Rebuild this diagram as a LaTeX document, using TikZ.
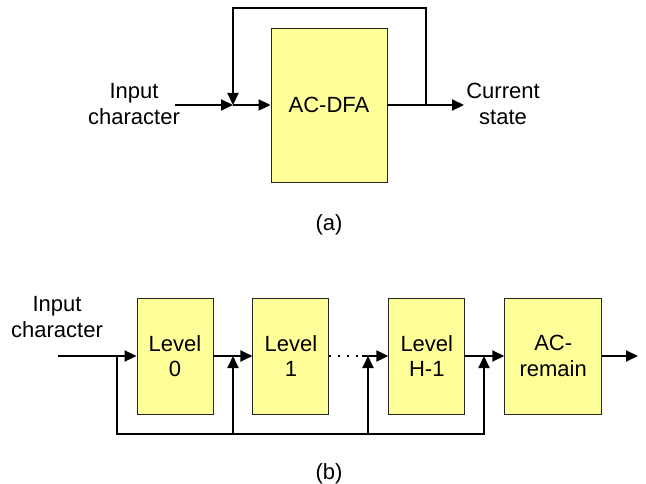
\documentclass[tikz,border=0pt]{standalone}
\usepackage{fontspec}
\setmainfont{Liberation Sans}
\usepackage{xcolor}
\usepackage{tikz}
\usetikzlibrary{arrows.meta, positioning}
\definecolor{boxfill}{HTML}{FFFF99}

\begin{document}
\begin{tikzpicture}[
    x = 1pt, y = -1pt,
    node distance = 39pt,
    box/.style = {rectangle, draw=black!85, fill=boxfill, line width=0.9pt, minimum width=76pt, minimum height=116pt, align=center, font=\fontsize{22}{25.5}\selectfont},
    lbl/.style = {align=center, inner sep=0pt, font=\fontsize{22}{25.5}\selectfont},
    wire/.style = {line width=2pt},
    arrow/.style = {line width=2pt, -{Triangle[length=12pt,width=11pt]}}
]
\useasboundingbox (0,0) rectangle (646,484);

% (a) single automaton
\node (dfa) [box, minimum width=116pt, minimum height=154pt] at (329,105) {AC-DFA};
\node (inA) [lbl] at (134,104) {Input\\character};
\node (outA) [lbl] at (503,104) {Current\\state};
\node (capA) [lbl] at (329,225) {(a)};

\coordinate (startA) at (175,105);
\coordinate (joinA) at (233,105);
\coordinate (splitA) at (426,105);
\coordinate (endA) at (464,105);
\coordinate (topA) at (233,8);

\draw [arrow] (startA) -- (joinA);
\draw [arrow] (joinA) -- (dfa);
\draw [arrow] (dfa) -- (endA);
\draw [arrow] (splitA) |- (topA) -- (joinA);

% (b) chain of levels
\node (lvl0) [box] at (175,356) {Level\\0};
\node (lvl1) [box, right=of lvl0] {Level\\1};
\node (lvlh) [box, right=59pt of lvl1] {Level\\H-1};
\node (rem) [box, minimum width=97pt, right=of lvlh] {AC-\\remain};
\node (inB) [lbl] at (57,317) {Input\\character};
\node (capB) [lbl] at (329,474) {(b)};

\coordinate (startB) at (58,356);
\coordinate (join0) at (117,356);
\coordinate (join1) at (233,356);
\coordinate (join2) at (368,356);
\coordinate (join3) at (484,356);
\coordinate (dots) at (362,356);
\coordinate (endB) at (638,356);
\coordinate (bot1) at (233,434);
\coordinate (bot2) at (368,434);
\coordinate (bot3) at (484,434);

\draw [arrow] (startB) -- (lvl0);
\draw [arrow] (lvl0) -- (lvl1);
\draw [wire, dash pattern=on 2pt off 7pt] (lvl1) -- (dots);
\draw [arrow] (dots) -- (lvlh);
\draw [arrow] (lvlh) -- (rem);
\draw [arrow] (rem) -- (endB);

% feedback of the input character
\draw [arrow] (join0) |- (bot3) -- (join3);
\draw [arrow] (bot1) -- (join1);
\draw [arrow] (bot2) -- (join2);

\end{tikzpicture}
\end{document}
